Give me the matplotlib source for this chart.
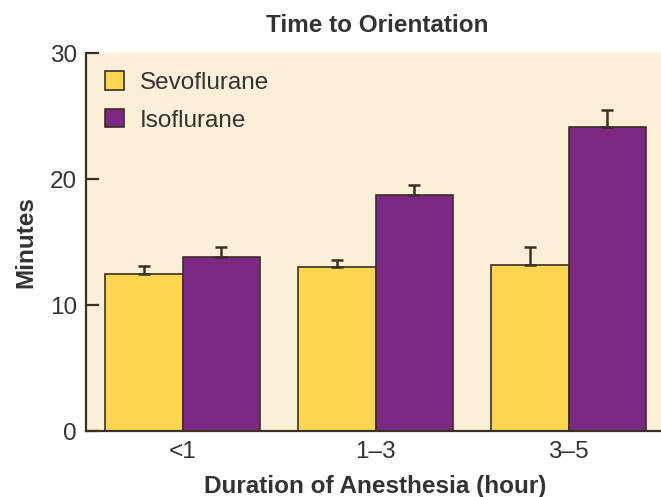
import numpy as np
import matplotlib
matplotlib.use("Agg")
import matplotlib.pyplot as plt

plt.rcParams["font.family"] = ["Liberation Sans", "DejaVu Sans"]

categories = ["<1", "1\u20133", "3\u20135"]
sevoflurane = [12.5, 13.0, 13.2]
sevoflurane_err = [0.6, 0.6, 1.4]
isoflurane = [13.8, 18.7, 24.1]
isoflurane_err = [0.8, 0.8, 1.4]
yticks = [0, 10, 20, 30]

bg = "#FCEFD7"
yellow = "#FDD54F"
purple = "#7C2782"
edge = "#3B3024"
text_col = "#333333"
fs = 17.5

fig = plt.figure(figsize=(6.61, 4.97), dpi=100)
W, H = 661, 497
left, right, top, bottom = 86, 665, 53, 431
ax = fig.add_axes([left / W, 1 - bottom / H, (right - left) / W, (bottom - top) / H])
ax.set_facecolor(bg)

x = np.arange(len(categories))
w = 0.4
err_kw = dict(ecolor=edge, elinewidth=1.8, capsize=4.5, capthick=1.8)
ax.bar(x - w / 2, sevoflurane, w, color=yellow, edgecolor=edge, linewidth=1.2,
       yerr=[np.zeros(3), sevoflurane_err], error_kw=err_kw, label="Sevoflurane")
ax.bar(x + w / 2, isoflurane, w, color=purple, edgecolor=edge, linewidth=1.2,
       yerr=[np.zeros(3), isoflurane_err], error_kw=err_kw, label="Isoflurane")

ax.set_xlim(-0.5, 2.5)
ax.set_ylim(0, 30)
ax.set_yticks(yticks)
ax.set_xticks(x)
ax.set_xticklabels(categories)

for s in ["top", "right"]:
    ax.spines[s].set_visible(False)
for s in ["left", "bottom"]:
    ax.spines[s].set_color(edge)
    ax.spines[s].set_linewidth(1.6)

ax.tick_params(axis="y", direction="in", length=9.5, width=1.6, color=edge,
               labelsize=fs, labelcolor=text_col, pad=6.5)
ax.tick_params(axis="x", length=0, labelsize=fs, labelcolor=text_col, pad=7)

ax.set_xlabel("Duration of Anesthesia (hour)", fontsize=fs, fontweight="bold",
              color=text_col, labelpad=9)
ax.set_ylabel("Minutes", fontsize=fs, fontweight="bold", color=text_col, labelpad=9)
fig.text(377 / W, 1 - 26 / H, "Time to Orientation", fontsize=fs, fontweight="bold",
         color=text_col, ha="center", va="center")

leg = ax.legend(loc="upper left", bbox_to_anchor=((105 - left) / (right - left), 1 - 18 / (bottom - top)),
                frameon=False, fontsize=fs, handlelength=0.8, handleheight=0.8,
                handletextpad=0.65, labelspacing=0.62, borderpad=0, borderaxespad=0)
for t in leg.get_texts():
    t.set_color(text_col)
for p in leg.get_patches():
    p.set_edgecolor(edge)
    p.set_linewidth(1.2)

fig.savefig("out.png", dpi=100)
